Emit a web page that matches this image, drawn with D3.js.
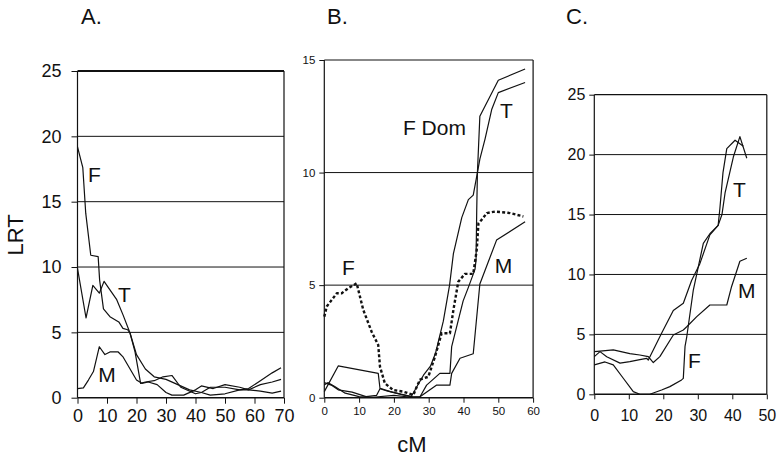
<!DOCTYPE html>
<html>
<head>
<meta charset="utf-8">
<script src="https://cdn.jsdelivr.net/npm/d3@7"></script>
<style>
  body { margin: 0; background: #fff; }
  svg { display: block; font-family: 'Liberation Sans', Arial, sans-serif; }
  .axis .domain { display: none; }
  .axis line { stroke: #111; }
  .axis text { fill: #111; }
</style>
</head>
<body>
<svg id="chart" width="784" height="460"></svg>
<script>
// panel A  (cM, LRT)
const aF = [[0,19.2],[1.8,17.6],[2.8,14.1],[4.5,10.9],[7,10.8],[7.5,9.0],[8.8,6.8],[11,6.2],[14,5.8],[15.4,5.3],[17,5.2],[17.8,4.95],[19.5,3.5],[21.4,1.1],[23,1.2],[26,1.3],[29,1.6],[32,1.7],[35,0.8],[40,0.3],[42,0.4],[45,0.8],[50,0.8],[55,0.6],[58,0.6],[62,0.5],[66,0.35],[69,0.5]]
const aT = [[0,9.9],[2.9,6.1],[5.2,8.6],[7.4,8.0],[9,8.9],[13.3,7.5],[15.5,6.3],[17.8,4.95],[20,3.3],[23,2.2],[26,1.6],[30,1.4],[34,1.0],[38,0.6],[42,0.4],[45,0.2],[50,0.3],[55,0.6],[58,0.7],[62,1.3],[66,1.9],[69,2.3]]
const aM = [[0,0.7],[2,0.75],[3.7,1.35],[5.4,2.0],[7.4,3.9],[9.3,3.3],[11,3.5],[13.8,3.5],[15.5,3.1],[20,1.35],[21.8,1.1],[24,1.2],[27,1.0],[30,0.4],[32,0.2],[36,0.2],[40,0.6],[42,0.9],[46,0.7],[50,1.0],[55,0.8],[58,0.6],[62,1.0],[66,1.2],[69,1.4]]

// panel B
const bFDom = [[0,0.27],[4,1.41],[15.5,1.08],[16,0.42],[19,0.27],[25,0.05],[27,0.6],[28.5,1.0],[30.5,1.4],[32,2.0],[34.2,3.4],[36,5.0],[37.1,6.4],[39.5,8.0],[41.4,8.8],[42.8,9.0],[44,10.0],[44.7,12.5],[50,14.1],[57.7,14.6]]
const bT = [[0,0.67],[2,0.56],[4,0.35],[8,0.25],[12,0.05],[15,0.1],[16,0.4],[18,0.3],[22,0.15],[25.5,0.04],[27.5,0.04],[29.4,0.56],[33.2,1.08],[36.1,1.08],[36.6,2.27],[39.9,4.3],[41.4,4.9],[43.3,5.7],[43.6,6.1],[43.8,8.3],[44,10.0],[44.7,10.6],[46.2,11.5],[48.1,12.8],[50,13.55],[57.7,14.0]]
const bM = [[0,0.56],[1,0.67],[3,0.5],[6,0.2],[10,0.05],[14,0.02],[20,0.1],[25,0.02],[27.5,0.04],[32.3,0.56],[36.1,0.56],[36.6,1.08],[39,1.75],[42.8,1.95],[44.7,5.05],[49.5,7.0],[57.7,7.82]]
const bF = [[0,3.6],[0.7,4.05],[3.6,4.64],[5,4.64],[6.9,4.86],[9.3,5.08],[11.2,3.9],[13.6,2.93],[15.5,2.34],[16,1.38],[17.4,0.64],[19.8,0.34],[22.7,0.27],[25.6,0.12],[26.6,0.5],[27.5,0.8],[29.9,0.93],[31.8,1.82],[33.7,2.86],[36.1,2.86],[37.1,3.9],[38.5,5.15],[40.4,5.5],[42.8,5.5],[43.8,6.56],[44.3,7.75],[45.2,7.9],[46.7,8.2],[49.1,8.27],[53.4,8.2],[57.2,8.05]]

// panel C
const cF = [[0,2.45],[3.1,2.7],[5.5,2.45],[8.4,1.34],[11.3,0.22],[13.2,0],[16.1,0],[19.5,0.36],[21.9,0.64],[25.3,1.2],[25.8,1.33],[26.3,4.0],[26.8,4.8],[28.7,8.7],[31.6,12.6],[33.5,13.4],[35.9,14.1],[36.4,15.5],[37.3,18.5],[38.4,20.5],[40.8,21.2],[43.2,20.7]]
const cT = [[0,3.14],[1.65,3.56],[3.6,3.14],[7.45,2.6],[10.3,2.72],[13.2,2.9],[15.2,3.0],[15.65,2.86],[19.5,5.1],[22.9,7.0],[25.8,7.6],[28.2,9.5],[30.6,10.9],[33.5,13.3],[35.9,14.1],[37,15],[37.9,16.8],[40.3,19.8],[42.2,21.5],[44.2,19.7]]
const cM = [[0,3.56],[1.65,3.6],[5.5,3.7],[10.3,3.4],[13.2,3.28],[15.65,3.14],[17.1,2.65],[19,3.14],[22.9,4.95],[25.8,5.37],[26.8,5.64],[29.7,6.48],[33.5,7.45],[38.4,7.45],[39.8,9.0],[42.2,11.1],[44.2,11.35]]

const aXTicks = [0, 10, 20, 30, 40, 50, 60, 70]
const aYTicks = [0, 5, 10, 15, 20, 25]
const bXTicks = [0, 10, 20, 30, 40, 50, 60]
const bYTicks = [0, 5, 10, 15]
const cXTicks = [0, 10, 20, 30, 40, 50]
const cYTicks = [0, 5, 10, 15, 20, 25]

const svg = d3.select('#chart')

function drawPanel(p) {
  const x = d3.scaleLinear().domain([0, d3.max(p.xTicks)]).range([p.left, p.right])
  const y = d3.scaleLinear().domain([0, d3.max(p.yTicks)]).range([p.bottom, p.top])
  const g = svg.append('g')

  // horizontal grid
  g.append('g')
    .selectAll('line')
    .data(p.yTicks.filter((d) => d > 0))
    .enter()
    .append('line')
    .attr('x1', p.left)
    .attr('x2', p.right)
    .attr('y1', (d) => y(d))
    .attr('y2', (d) => y(d))
    .attr('stroke', '#111')
    .attr('stroke-width', (d) => (d === d3.max(p.yTicks) ? p.topWidth : 1))

  // frame
  g.append('line').attr('x1', p.left).attr('x2', p.left).attr('y1', p.top).attr('y2', p.bottom).attr('stroke', '#111').attr('stroke-width', 1.2)
  g.append('line').attr('x1', p.right).attr('x2', p.right).attr('y1', p.top).attr('y2', p.bottom).attr('stroke', '#111').attr('stroke-width', 1.2)
  g.append('line').attr('x1', p.left).attr('x2', p.right).attr('y1', p.bottom).attr('y2', p.bottom).attr('stroke', '#111').attr('stroke-width', 1.4)

  g.append('g')
    .attr('class', 'axis')
    .attr('transform', 'translate(' + p.left + ',0)')
    .call(d3.axisLeft(y).tickValues(p.yTicks).tickSize(p.tick).tickPadding(p.pad))
    .selectAll('text')
    .style('font-size', p.font + 'px')

  g.append('g')
    .attr('class', 'axis')
    .attr('transform', 'translate(0,' + p.bottom + ')')
    .call(d3.axisBottom(x).tickValues(p.xTicks).tickSize(p.tick).tickPadding(p.xpad))
    .selectAll('text')
    .style('font-size', p.font + 'px')

  const line = d3.line().x((d) => x(d[0])).y((d) => y(d[1]))
  p.series.forEach((s) => {
    g.append('path')
      .datum(s.data)
      .attr('d', line)
      .attr('fill', 'none')
      .attr('stroke', '#111')
      .attr('stroke-width', s.width || 1.2)
      .attr('stroke-dasharray', s.dash || null)
      .attr('stroke-linejoin', 'round')
  })

  p.labels.forEach((l) => {
    g.append('text')
      .attr('x', x(l[1]))
      .attr('y', y(l[2]))
      .style('font-size', '21px')
      .attr('fill', '#111')
      .text(l[0])
  })

  svg.append('text')
    .attr('x', p.titleX)
    .attr('y', 24)
    .style('font-size', '22px')
    .attr('fill', '#111')
    .text(p.title)
}

drawPanel({
  title: 'A.', titleX: 81,
  left: 77.5, right: 284, top: 71, bottom: 397.7,
  xTicks: aXTicks, yTicks: aYTicks, tick: 6, pad: 10, xpad: 6, font: 18, topWidth: 2,
  series: [{ data: aF }, { data: aT }, { data: aM }],
  labels: [['F', 3.6, 16.5], ['T', 13.7, 7.3], ['M', 7.0, 1.2]],
})

drawPanel({
  title: 'B.', titleX: 327,
  left: 324.3, right: 533.1, top: 60, bottom: 397.7,
  xTicks: bXTicks, yTicks: bYTicks, tick: 5, pad: 4, xpad: 4, font: 11.5, topWidth: 1.2,
  series: [{ data: bFDom }, { data: bT }, { data: bM }, { data: bF, dash: '3,2.2', width: 2.4 }],
  labels: [['F Dom', 22.6, 11.68], ['T', 50.5, 12.43], ['F', 5.1, 5.45], ['M', 49, 5.54]],
})

drawPanel({
  title: 'C.', titleX: 566,
  left: 594.3, right: 766.8, top: 94.7, bottom: 394.3,
  xTicks: cXTicks, yTicks: cYTicks, tick: 5, pad: 4, xpad: 10, font: 16, topWidth: 1.2,
  series: [{ data: cF }, { data: cT }, { data: cM }],
  labels: [['T', 40.2, 16.47], ['M', 41.65, 8.04], ['F', 27.16, 2.2]],
})

svg.append('text')
  .attr('transform', 'translate(23,235) rotate(-90)')
  .attr('text-anchor', 'middle')
  .style('font-size', '22px')
  .attr('fill', '#111')
  .text('LRT')

svg.append('text')
  .attr('x', 412)
  .attr('y', 452)
  .attr('text-anchor', 'middle')
  .style('font-size', '22px')
  .attr('fill', '#111')
  .text('cM')
</script>
</body>
</html>
